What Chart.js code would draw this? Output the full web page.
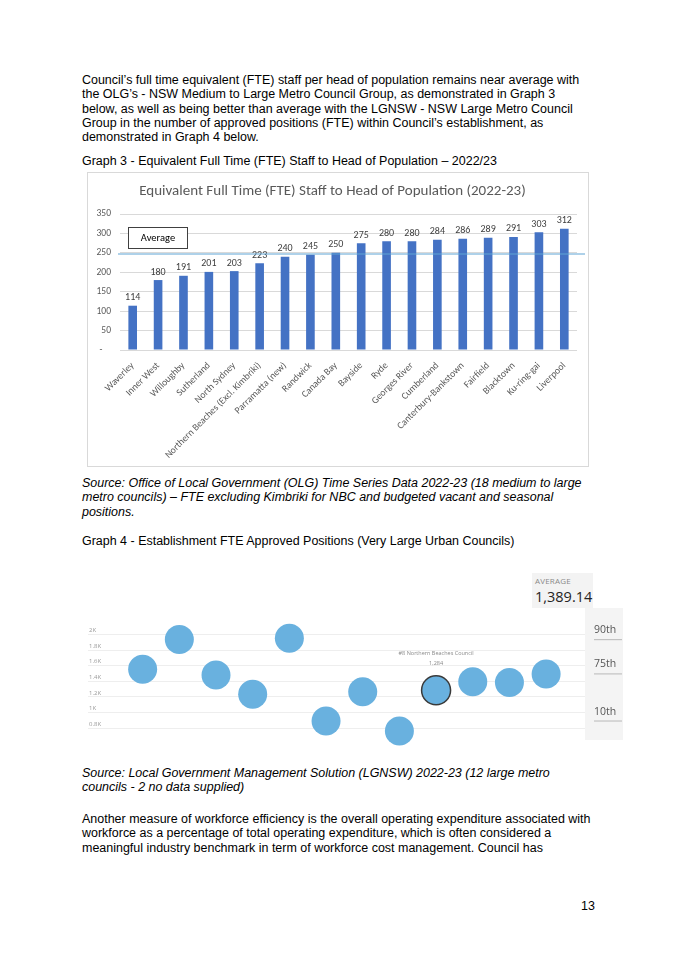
<!DOCTYPE html>
<html>
<head>
<meta charset="utf-8">
<script src="https://cdn.jsdelivr.net/npm/chart.js@4.4.0/dist/chart.umd.min.js"></script>
<style>
html, body { margin: 0; padding: 0; background: #fff; }
body { width: 675px; height: 955px; position: relative; overflow: hidden; font-family: "Liberation Sans", Arial, sans-serif; font-size: 12.47px; color: #000; }
.txt { position: absolute; left: 82px; line-height: 14.3px; white-space: nowrap; }
.it { font-style: italic; }
#box1 { position: absolute; left: 87px; top: 172px; width: 502px; height: 295px; border: 1px solid #d9d9d9; box-sizing: border-box; }
#chart1 { position: absolute; left: 88px; top: 173px; }
#chart2 { position: absolute; left: 85px; top: 600px; }
#avgBox { position: absolute; left: 532px; top: 573px; width: 61px; height: 35px; background: #f3f3f3; font-family: "Open Sans", sans-serif; }
#avgBox .lbl { position: absolute; left: 3px; top: 2px; font-size: 8px; color: #8a8a8a; letter-spacing: 0.2px; }
#avgBox .val { position: absolute; left: 3px; top: 14px; font-size: 14.5px; color: #252423; }
#pageNo { position: absolute; left: 581px; top: 899px; font-size: 12.47px; }
</style>
</head>
<body>
<div class="txt" style="top:73px">Council’s full time equivalent (FTE) staff per head of population remains near average with<br>the OLG’s - NSW Medium to Large Metro Council Group, as demonstrated in Graph 3<br>below, as well as being better than average with the LGNSW - NSW Large Metro Council<br>Group in the number of approved positions (FTE) within Council’s establishment, as<br>demonstrated in Graph 4 below.</div>
<div class="txt" style="top:154px">Graph 3 - Equivalent Full Time (FTE) Staff to Head of Population – 2022/23</div>
<div id="box1"></div>
<canvas id="chart1" width="500" height="293" style="width:500px;height:293px"></canvas>
<div class="txt it" style="top:476px">Source: Office of Local Government (OLG) Time Series Data 2022-23 (18 medium to large<br>metro councils) – FTE excluding Kimbriki for NBC and budgeted vacant and seasonal<br>positions.</div>
<div class="txt" style="top:534px">Graph 4 - Establishment FTE Approved Positions (Very Large Urban Councils)</div>
<div id="avgBox"><div class="lbl">AVERAGE</div><div class="val" id="avgVal"></div></div>
<canvas id="chart2" width="540" height="160" style="width:540px;height:160px"></canvas>
<div class="txt it" style="top:766px">Source: Local Government Management Solution (LGNSW) 2022-23 (12 large metro<br>councils - 2 no data supplied)</div>
<div class="txt" style="top:812px">Another measure of workforce efficiency is the overall operating expenditure associated with<br>workforce as a percentage of total operating expenditure, which is often considered a<br>meaningful industry benchmark in term of workforce cost management. Council has</div>
<div id="pageNo">13</div>
<script>
// Graph 3 data
const councils = ["Waverley", "Inner West", "Willoughby", "Sutherland", "North Sydney", "Northern Beaches (Excl. Kimbriki)", "Parramatta (new)", "Randwick", "Canada Bay", "Bayside", "Ryde", "Georges River", "Cumberland", "Canterbury-Bankstown", "Fairfield", "Blacktown", "Ku-ring-gai", "Liverpool"];
const fteValues = [114, 180, 191, 201, 203, 223, 240, 245, 250, 275, 280, 280, 284, 286, 289, 291, 303, 312];
const fteAverage = 247;
const fteTitle = "Equivalent Full Time (FTE) Staff to Head of Population (2022-23)";

// Graph 4 data
const lgnswValues = [1554, 1935, 1482, 1233, 1952, 892, 1265, 763, 1284, 1393, 1385, 1494];
const highlightIdx = 8;
const highlightName = "#8 Northern Beaches Council";
const highlightText = "1,284";
const kTicks = [800, 1000, 1200, 1400, 1600, 1800, 2000];
const percentileNames = ["90th", "75th", "10th"];
const percentileValues = [1940, 1501, 897];
const averageText = "1,389.14";

const calibri = "Carlito, Lato, sans-serif";

const barExtras = {
	id: "barExtras",
	afterDatasetsDraw(chart) {
		const ctx = chart.ctx;
		const meta = chart.getDatasetMeta(0);
		ctx.save();
		ctx.font = "10px " + calibri;
		ctx.fillStyle = "#404040";
		ctx.textAlign = "center";
		ctx.textBaseline = "bottom";
		meta.data.forEach((bar, i) => {
			ctx.fillText(fteValues[i], bar.x, bar.y - 3);
		});
		// average line
		const y = chart.scales.y.getPixelForValue(fteAverage);
		ctx.strokeStyle = "#5fa3d3";
		ctx.lineWidth = 1.2;
		ctx.beginPath();
		ctx.moveTo(chart.chartArea.left - 2, y);
		ctx.lineTo(chart.width - 3, y);
		ctx.stroke();
		// "Average" box
		ctx.fillStyle = "#fff";
		ctx.fillRect(40, 54, 59, 21);
		ctx.strokeStyle = "#404040";
		ctx.lineWidth = 1;
		ctx.strokeRect(40.5, 54.5, 59, 21);
		ctx.fillStyle = "#000";
		ctx.font = "10.5px " + calibri;
		ctx.textBaseline = "middle";
		ctx.fillText("Average", 70, 65.5);
		ctx.restore();
	}
};

new Chart(document.getElementById("chart1"), {
	type: "bar",
	data: {
		labels: councils,
		datasets: [{
			data: fteValues,
			backgroundColor: "#4472c4",
			barPercentage: 0.34,
			categoryPercentage: 1
		}]
	},
	options: {
		responsive: false,
		animation: false,
		layout: { padding: { left: 0, right: 11, top: 0, bottom: 0 } },
		plugins: {
			legend: { display: false },
			tooltip: { enabled: false },
			title: {
				display: true,
				text: fteTitle,
				color: "#595959",
				font: { family: calibri, size: 15, weight: "normal" },
				padding: { top: 9, bottom: 14 }
			}
		},
		scales: {
			x: {
				grid: { display: false },
				border: { display: false },
				ticks: {
					autoSkip: false,
					minRotation: 45,
					maxRotation: 45,
					color: "#595959",
					font: { family: calibri, size: 9.7 },
					padding: 2
				},
				afterFit: (s) => { s.height = 116; }
			},
			y: {
				min: 0,
				max: 350,
				ticks: {
					stepSize: 50,
					color: "#595959",
					font: { family: calibri, size: 9.5 },
					padding: 9,
					callback: (v) => (v === 0 ? "-    " : v)
				},
				grid: { color: "#d9d9d9", drawTicks: false },
				border: { display: false },
				afterFit: (s) => { s.width = 32; }
			}
		}
	},
	plugins: [barExtras]
});

document.getElementById("avgVal").textContent = averageText;

const dotExtras = {
	id: "dotExtras",
	beforeDraw(chart) {
		const ctx = chart.ctx;
		const area = chart.chartArea;
		const ys = chart.scales.y;
		ctx.save();
		ctx.fillStyle = "#f4f4f4";
		ctx.fillRect(area.right, 8, 38, 132);
		ctx.font = "10.5px 'Open Sans', sans-serif";
		ctx.textBaseline = "middle";
		ctx.textAlign = "left";
		percentileNames.forEach((name, i) => {
			const y = ys.getPixelForValue(percentileValues[i]);
			ctx.strokeStyle = "#b8b8b8";
			ctx.lineWidth = 1;
			ctx.beginPath();
			ctx.moveTo(area.right + 9, y + 0.5);
			ctx.lineTo(area.right + 37, y + 0.5);
			ctx.stroke();
			ctx.fillStyle = "#555";
			ctx.fillText(name, area.right + 9, y - 9);
		});
		ctx.restore();
	},
	afterDatasetsDraw(chart) {
		const ctx = chart.ctx;
		const pt = chart.getDatasetMeta(0).data[highlightIdx];
		ctx.save();
		ctx.font = "5.5px 'Open Sans', sans-serif";
		ctx.fillStyle = "#8a8a8a";
		ctx.textAlign = "center";
		ctx.textBaseline = "middle";
		ctx.fillText(highlightName, pt.x, pt.y - 37);
		ctx.fillText(highlightText, pt.x, pt.y - 27);
		ctx.restore();
	}
};

new Chart(document.getElementById("chart2"), {
	type: "scatter",
	data: {
		datasets: [{
			data: lgnswValues.map((v, i) => ({ x: i, y: v })),
			backgroundColor: "#69b1df",
			pointRadius: 14.5,
			pointBorderColor: (c) => (c.dataIndex === highlightIdx ? "#3a3a3a" : "#69b1df"),
			pointBorderWidth: (c) => (c.dataIndex === highlightIdx ? 1.5 : 0),
			clip: false
		}]
	},
	options: {
		responsive: false,
		animation: false,
		layout: { autoPadding: false, padding: { left: 3, right: 40, top: 0, bottom: 0 } },
		plugins: { legend: { display: false }, tooltip: { enabled: false } },
		scales: {
			x: { type: "linear", min: -1.49, max: 12.06, display: false },
			y: {
				min: 450,
				max: 2383,
				afterBuildTicks: (s) => { s.ticks = kTicks.map((v) => ({ value: v })); },
				ticks: {
					color: "#9a9a9a",
					font: { family: "'Open Sans', sans-serif", size: 6 },
					mirror: true,
					labelOffset: -4,
					padding: 1,
					callback: (v) => v / 1000 + "K"
				},
				grid: { color: "#eeeeee", drawTicks: false },
				border: { display: false },
				afterFit: (s) => { s.width = 0; }
			}
		}
	},
	plugins: [dotExtras]
});
</script>
</body>
</html>
